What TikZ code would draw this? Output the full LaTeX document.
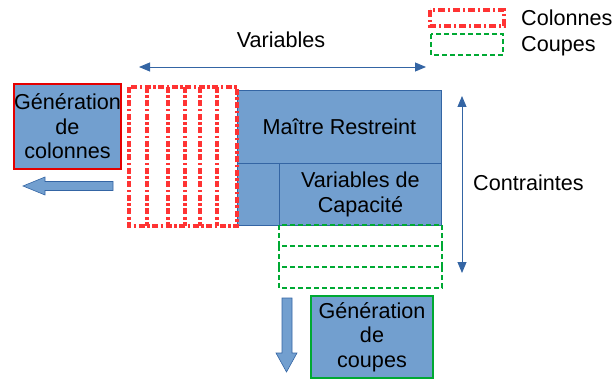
\documentclass[tikz,border=0pt]{standalone}
\usepackage{fontspec}
\setmainfont{Liberation Sans}
\usetikzlibrary{arrows.meta}
\definecolor{boxblue}{HTML}{729FCF}
\definecolor{edgeblue}{HTML}{3465A4}
\definecolor{colred}{HTML}{FF3333}
\definecolor{cutgreen}{HTML}{00A933}
\tikzset{
  txt/.style={font=\fontsize{21.6}{24.5}\selectfont, text=black, align=center, inner sep=0pt},
  bluebox/.style={draw=edgeblue, line width=0.8pt, fill=boxblue, rectangle, inner sep=0pt, anchor=north west},
  genbox/.style={fill=boxblue, line width=2pt, rectangle, inner sep=0pt, anchor=north west, txt},
  redcol/.style={draw=colred, line width=3.4pt, dash pattern=on 6pt off 2.5pt on 2.5pt off 2.5pt},
  greencut/.style={draw=cutgreen, line width=1.8pt, dash pattern=on 5pt off 3pt},
  dblarrow/.style={draw=edgeblue, line width=0.9pt, {Triangle[length=11pt,width=9pt]}-{Triangle[length=11pt,width=9pt]}},
  blockarrow/.style={fill=boxblue, draw=edgeblue, line width=0.6pt}
}
\begin{document}
\begin{tikzpicture}[x=1pt,y=-1pt]
\useasboundingbox (0,0) rectangle (612,379);
% main blocks
\node[bluebox, minimum width=204pt, minimum height=73pt, txt] (master) at (237,90) {Maître Restreint};
\node[bluebox, minimum width=42pt, minimum height=62pt] (small) at (237,163) {};
\node[bluebox, minimum width=162pt, minimum height=62pt, txt] (capa) at (279,163) {Variables de\\Capacité};
% red columns
\draw[redcol] (129,87) rectangle (237,226);
\foreach \xx in {147,168,185,200,217}{
  \draw[redcol] (\xx,87) -- (\xx,226);
}
% green cuts
\draw[greencut] (279,225) rectangle (442,246);
\draw[greencut] (279,246) rectangle (442,267);
\draw[greencut] (279,267) rectangle (442,288);
% generation boxes
\node[genbox, draw=red!90!black, minimum width=107pt, minimum height=85pt] (gcol) at (13,83) {Génération\\de\\colonnes};
\node[genbox, draw=cutgreen, minimum width=122pt, minimum height=82pt] (gcut) at (310,295) {Génération\\de\\coupes};
% block arrows
\draw[blockarrow] (113,181.5) -- (45,181.5) -- (45,177) -- (23,186) -- (45,195) -- (45,190.5) -- (113,190.5) -- cycle;
\draw[blockarrow] (282,298) -- (282,353) -- (276,353) -- (286.5,372) -- (297,353) -- (292,353) -- (292,298) -- cycle;
% dimension arrows
\coordinate (vl) at (139,67);
\coordinate (vr) at (426,67);
\draw[dblarrow] (vl) -- (vr);
\node[txt] (varlab) at (281,40) {Variables};
\coordinate (ct) at (462,96);
\coordinate (cb) at (462,273);
\draw[dblarrow] (ct) -- (cb);
\node[txt, anchor=west] (conlab) at (473,183) {Contraintes};
% legend
\draw[draw=colred, line width=3.5pt, dash pattern=on 7pt off 3pt on 2pt off 3pt] (430,10) rectangle (504,26);
\node[txt, anchor=west] (lcol) at (521,18) {Colonnes};
\draw[greencut] (431,34) rectangle (503,55);
\node[txt, anchor=west] (lcut) at (521,46) {Coupes};
\end{tikzpicture}
\end{document}
